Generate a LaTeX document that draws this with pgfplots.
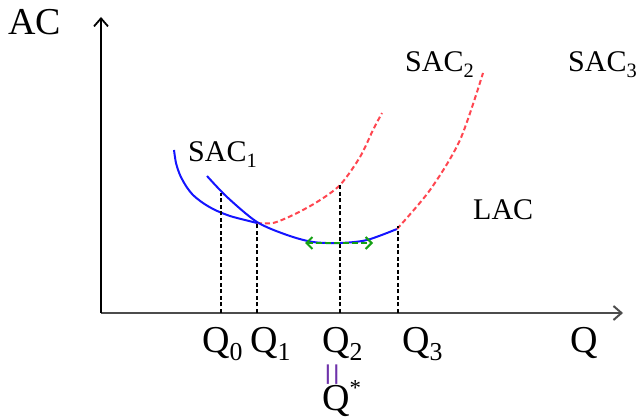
\documentclass[border=0pt]{standalone}
\usepackage{pgfplots}
\pgfplotsset{compat=1.18}
\usepackage{fontspec}
\setmainfont{Liberation Serif}
\usetikzlibrary{arrows.meta}
\definecolor{sacblue}{RGB}{20,20,255}
\definecolor{sacred}{RGB}{255,70,80}
\definecolor{arrgreen}{RGB}{20,160,20}
\definecolor{eqpurple}{RGB}{110,50,170}
\newcommand\sub[1]{\raisebox{-0.2em}{\scalebox{0.68}{#1}}}
\newcommand\bigtxt{\fontsize{38bp}{40bp}\selectfont}
\newcommand\midtxt{\fontsize{30bp}{32bp}\selectfont}
\tikzset{lbl/.style={anchor=base west, inner sep=0, text depth=0pt}}
\begin{document}
\begin{tikzpicture}
\begin{axis}[
  axis lines=none,
  scale only axis,
  width=643bp, height=419bp,
  xmin=0, xmax=643, ymin=0, ymax=419,
  clip=false,
]
% invisible frame so the page spans the full axis area
\addplot[draw=none] coordinates {(0,0) (643,419)};
% axes
\addplot[line width=2bp, black!70, -{Straight Barb[length=8bp,width=14bp]}] coordinates {(101,106) (623,106)};
\addplot[line width=1.8bp, black, -{Straight Barb[length=8bp,width=14bp]}] coordinates {(101,106) (101,402)};
% SAC1
\addplot[sacblue, line width=2bp, smooth] coordinates {
  (174,269) (176,256) (180,244) (186,233) (193,224) (203,216) (215,209) (230,203) (245,199) (257,196)};
\addplot[sacred, line width=2bp, dash pattern=on 5bp off 3bp, smooth] coordinates {
  (257,196) (273,196) (293,204) (317,217) (340,234) (360,262) (373,289) (382,306)};
% SAC2
\addplot[sacblue, line width=2bp, smooth] coordinates {
  (207,243) (227,222) (257,197) (287,184) (313,177) (340,176) (367,179) (397,190)};
\addplot[sacred, line width=2bp, dash pattern=on 5bp off 3bp, smooth] coordinates {
  (397,190) (430,229) (460,279) (483,346)};
% vertical guides
\addplot[black, line width=1.6bp, dash pattern=on 4bp off 2.5bp] coordinates {(221,106) (221,226)};
\addplot[black, line width=1.6bp, dash pattern=on 4bp off 2.5bp] coordinates {(257,106) (257,197)};
\addplot[black, line width=1.6bp, dash pattern=on 4bp off 2.5bp] coordinates {(340,106) (340,234)};
\addplot[black, line width=1.6bp, dash pattern=on 4bp off 2.5bp] coordinates {(398,106) (398,193)};
% green arrow
\addplot[arrgreen, line width=2bp, dash pattern=on 6bp off 3bp, {Straight Barb[length=6bp,width=12bp]}-{Straight Barb[length=6bp,width=12bp]}] coordinates {(305,176) (373,176)};
% labels
\node[lbl] at (axis cs:8,384) {\bigtxt AC};
\node[lbl] at (axis cs:570,66) {\bigtxt Q};
\node[lbl] at (axis cs:202,66) {\bigtxt Q\sub{0}};
\node[lbl] at (axis cs:250,66) {\bigtxt Q\sub{1}};
\node[lbl] at (axis cs:322,66) {\bigtxt Q\sub{2}};
\node[lbl] at (axis cs:402,66) {\bigtxt Q\sub{3}};
\node[inner sep=0, text=eqpurple] at (axis cs:337,44) {\fontsize{42bp}{44bp}\selectfont\rotatebox{90}{=}};
\node[lbl] at (axis cs:322,9) {\bigtxt Q\raisebox{0.38em}{\scalebox{0.6}{*}}};
\node[lbl] at (axis cs:188,257) {\midtxt SAC\sub{1}};
\node[lbl] at (axis cs:405,347) {\midtxt SAC\sub{2}};
\node[lbl] at (axis cs:568,347) {\midtxt SAC\sub{3}};
\node[lbl] at (axis cs:473,199) {\midtxt LAC};
\end{axis}
\end{tikzpicture}
\end{document}
